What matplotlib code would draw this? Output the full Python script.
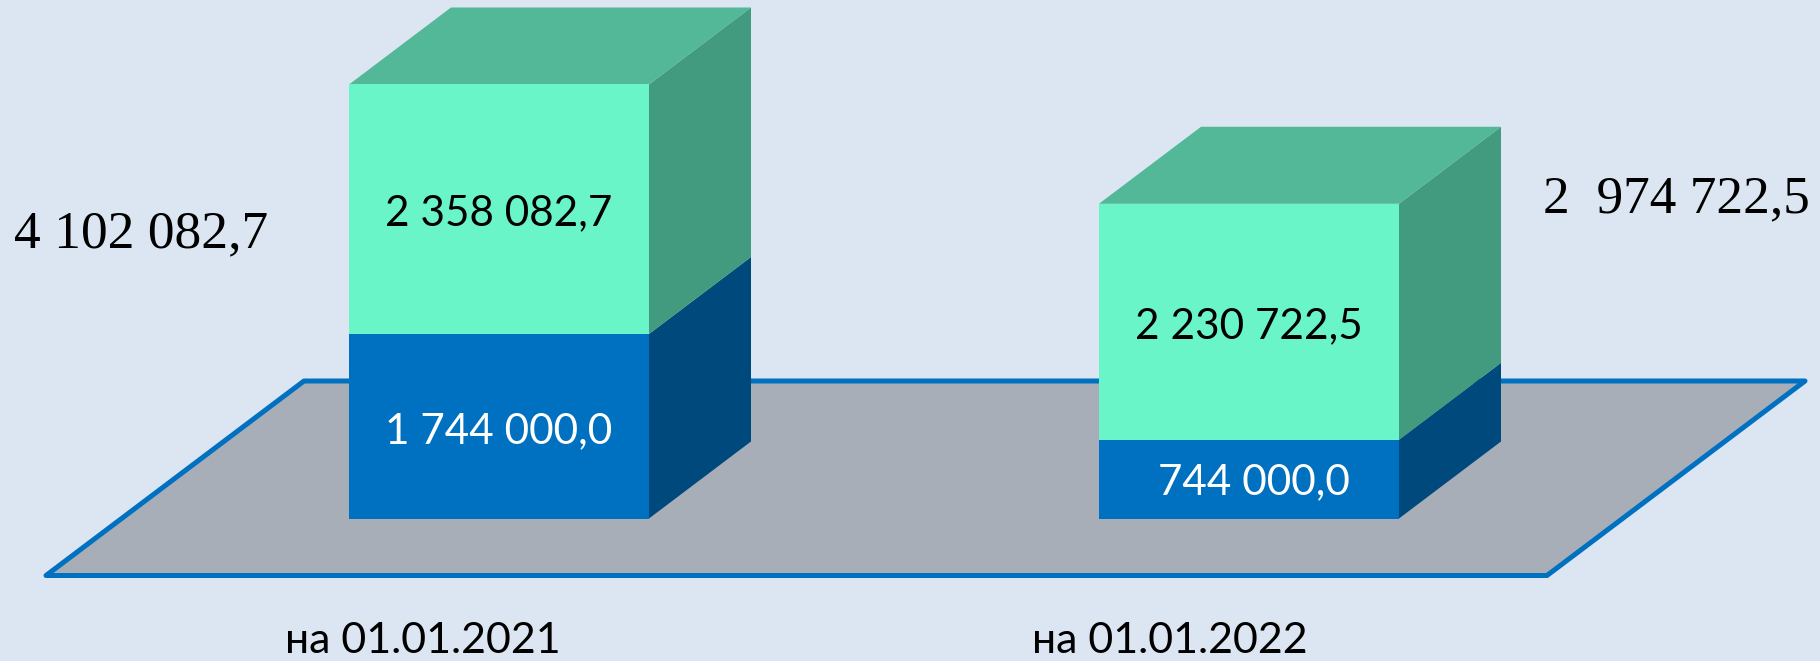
import matplotlib
matplotlib.use("Agg")
import matplotlib.pyplot as plt
from matplotlib.patches import Polygon

dates = ["на 01.01.2021", "на 01.01.2022"]
lower = [1744000.0, 744000.0]
upper = [2358082.7, 2230722.5]
lower_labels = ["1 744 000,0", "744 000,0"]
upper_labels = ["2 358 082,7", "2 230 722,5"]
total_labels = ["4 102 082,7", "2  974 722,5"]

bg = "#DCE6F2"
floor_col = "#A7AEB8"
blue = "#0070C0"
blue_side = "#00497D"
green = "#6AF5C9"
green_top = "#52B898"
green_side = "#429A7F"

W, H = 1820, 661
x_step = 750.0  # pixels between the two bars
y_scale = 0.0001058  # pixels per unit
x0_px, y0_px = 499.0, 518.5  # first bar centre, base of bars

fig = plt.figure(figsize=(W / 100, H / 100), dpi=100, facecolor=bg)
ax = fig.add_axes([0, 0, 1, 1])
ax.set_xlim(-x0_px / x_step, (W - x0_px) / x_step)
ax.set_ylim(-(H - y0_px) / y_scale, y0_px / y_scale)
ax.axis("off")

bar_w = 300 / x_step
dx = 102 / x_step
dy = 77 / y_scale


def px(x, y):
    return ((x - x0_px) / x_step, (y0_px - y) / y_scale)


# floor
floor = [px(46, 575.5), px(304, 381), px(1805, 381), px(1547, 575.5)]
ax.add_patch(Polygon(floor, closed=True, fc=floor_col, ec=blue, lw=3.6, joinstyle="round", zorder=1))

for i in range(len(dates)):
    l = i - bar_w / 2
    r = i + bar_w / 2
    top = lower[i] + upper[i]
    ax.bar(i, lower[i], width=bar_w, color=blue, zorder=3)
    ax.bar(i, upper[i], bottom=lower[i], width=bar_w, color=green, zorder=3)
    ax.add_patch(Polygon([(r, 0), (r + dx, dy), (r + dx, lower[i] + dy), (r, lower[i])], fc=blue_side, ec="none", zorder=2))
    ax.add_patch(Polygon([(r, lower[i]), (r + dx, lower[i] + dy), (r + dx, top + dy), (r, top)], fc=green_side, ec="none", zorder=2))
    ax.add_patch(Polygon([(l, top), (l + dx, top + dy), (r + dx, top + dy), (r, top)], fc=green_top, ec="none", zorder=2))

sans = ["Lato", "DejaVu Sans"]
serif = ["Liberation Serif", "DejaVu Serif"]

ax.text(*px(499, 213), upper_labels[0], ha="center", va="center", fontsize=30.4, family=sans, color="black", zorder=4)
ax.text(*px(499, 431), lower_labels[0], ha="center", va="center", fontsize=30.4, family=sans, color="white", zorder=4)
ax.text(*px(1249, 326), upper_labels[1], ha="center", va="center", fontsize=30.4, family=sans, color="black", zorder=4)
ax.text(*px(1254, 482), lower_labels[1], ha="center", va="center", fontsize=30.4, family=sans, color="white", zorder=4)

ax.text(*px(141, 234), total_labels[0], ha="center", va="center", fontsize=38.5, family=serif, color="black", zorder=4)
ax.text(*px(1676, 199), total_labels[1], ha="center", va="center", fontsize=38.3, family=serif, color="black", zorder=4)

ax.text(*px(423, 641), dates[0], ha="center", va="center", fontsize=31, family=sans, color="black", zorder=4)
ax.text(*px(1170, 641), dates[1], ha="center", va="center", fontsize=31, family=sans, color="black", zorder=4)

fig.savefig("out.png", dpi=100, facecolor=bg)
